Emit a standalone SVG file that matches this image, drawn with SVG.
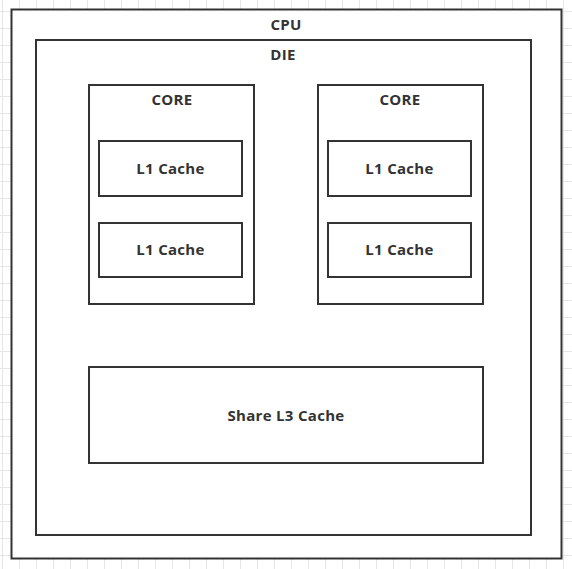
<svg xmlns="http://www.w3.org/2000/svg" width="572" height="569" viewBox="0 0 572 569">
<defs>
<pattern id="grid" x="2" y="11" width="17" height="17" patternUnits="userSpaceOnUse">
<path d="M0 0.5H17M0.5 0V17" fill="none" stroke="#e6e6e6" stroke-width="1"/>
</pattern>
<style>
.box{fill:#fff;stroke:#333;stroke-width:2}
.lbl{font-family:"Open Sans","Noto Sans",sans-serif;font-weight:bold;font-size:15px;letter-spacing:0.3px;fill:#333;text-anchor:middle}
</style>
</defs>
<rect width="572" height="569" fill="#fff"/>
<rect width="572" height="569" fill="url(#grid)"/>
<g id="cpu"><rect class="box" x="11.5" y="9.5" width="550" height="549"/><text class="lbl" x="286" y="29.5">CPU</text></g>
<g id="die"><rect class="box" x="36" y="40" width="495" height="495"/><text class="lbl" x="283" y="59.5">DIE</text></g>
<g id="core1"><rect class="box" x="89" y="85" width="165" height="219"/><text class="lbl" x="172" y="105">CORE</text></g>
<g id="core2"><rect class="box" x="318" y="85" width="165" height="219"/><text class="lbl" x="400" y="105">CORE</text></g>
<g id="l1a"><rect class="box" x="99" y="141" width="143" height="55"/><text class="lbl" x="170.5" y="173.5">L1 Cache</text></g>
<g id="l1b"><rect class="box" x="99" y="223" width="143" height="54"/><text class="lbl" x="170.5" y="255">L1 Cache</text></g>
<g id="l1c"><rect class="box" x="328" y="141" width="143" height="55"/><text class="lbl" x="399.5" y="173.5">L1 Cache</text></g>
<g id="l1d"><rect class="box" x="328" y="223" width="143" height="54"/><text class="lbl" x="399.5" y="255">L1 Cache</text></g>
<g id="l3"><rect class="box" x="89" y="367" width="394" height="96"/><text class="lbl" x="286" y="420.5">Share L3 Cache</text></g>
<g id="connectors"/>
</svg>
